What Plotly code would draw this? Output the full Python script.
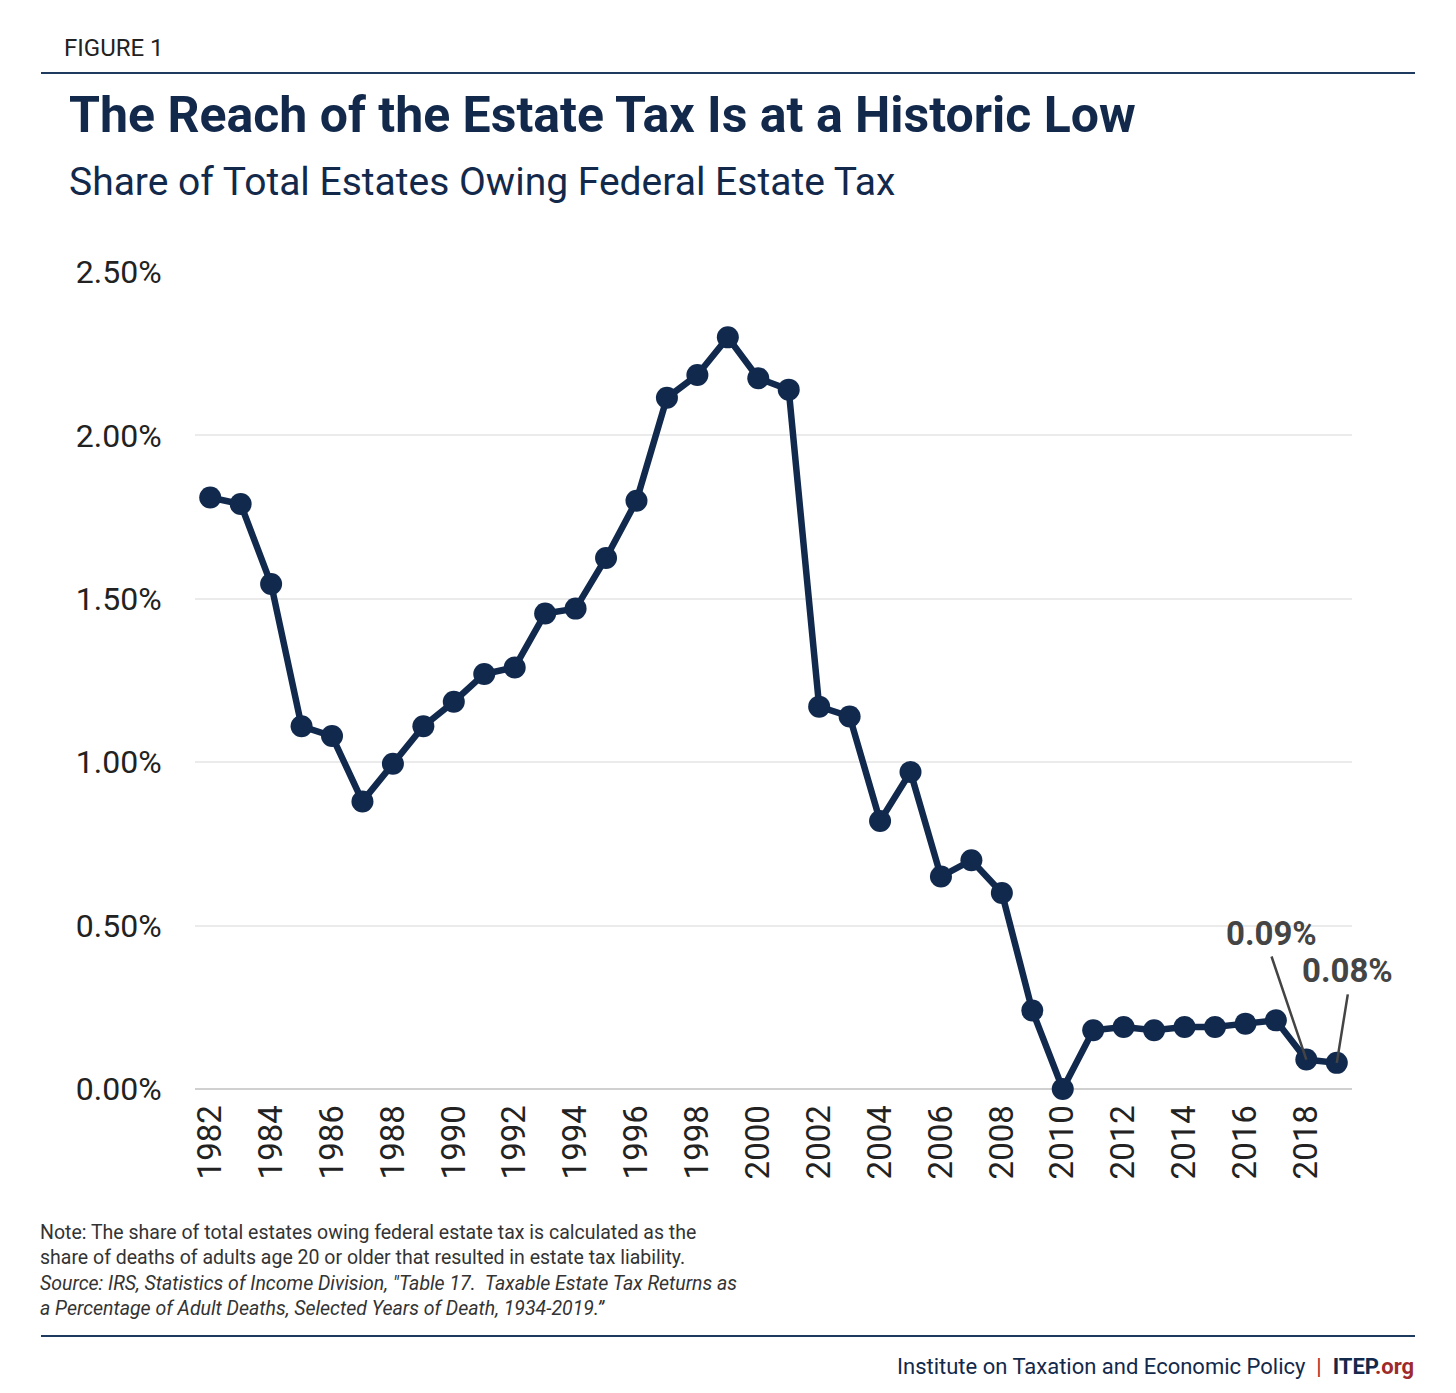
import plotly.graph_objects as go

years = list(range(1982, 2020))
share = [1.81, 1.79, 1.545, 1.11, 1.08, 0.88, 0.995, 1.11, 1.185, 1.27, 1.29, 1.455, 1.47,
         1.625, 1.80, 2.115, 2.185, 2.30, 2.175, 2.14, 1.17, 1.14, 0.82, 0.97, 0.65, 0.70,
         0.60, 0.24, 0.0, 0.18, 0.19, 0.18, 0.19, 0.19, 0.20, 0.21, 0.09, 0.08]
y_ticks = [0, 0.5, 1.0, 1.5, 2.0, 2.5]
y_tick_labels = ["0.00%", "0.50%", "1.00%", "1.50%", "2.00%", "2.50%"]
x_ticks = list(range(1982, 2019, 2))

NAVY = "#11294d"
FONT = "Roboto"

fig = go.Figure()
fig.add_trace(go.Scatter(
    x=years, y=share, mode="lines+markers",
    line=dict(color=NAVY, width=6.5),
    marker=dict(color=NAVY, size=22),
    cliponaxis=False, showlegend=False, hoverinfo="x+y"))

fig.update_layout(
    width=1440, height=1377, autosize=False,
    paper_bgcolor="white", plot_bgcolor="white",
    margin=dict(l=187, r=96, t=264, b=296),
    font=dict(family=FONT, color="#222222"),
    xaxis=dict(range=[1981.5, 2019.5], tickvals=x_ticks, tickangle=-90,
               showgrid=False, zeroline=False, showline=False,
               ticks="outside", ticklen=2, tickcolor="rgba(0,0,0,0)",
               tickfont=dict(size=33, color="#222222", family=FONT)),
    yaxis=dict(range=[0, 2.5], tickvals=y_ticks, ticktext=y_tick_labels,
               showgrid=True, gridcolor="#ebebeb", gridwidth=2,
               zeroline=True, zerolinecolor="#d0d0d0", zerolinewidth=2,
               showline=False, ticks="outside", ticklen=26, tickcolor="rgba(0,0,0,0)",
               tickfont=dict(size=32, color="#222222", family=FONT)),
)

def px_x(px):
    return (px - 195) / 1157

def px_y(py):
    return (1089 - py) / 817

# rules
for yy in [73, 1336]:
    fig.add_shape(type="line", xref="paper", yref="paper",
                  x0=px_x(41), x1=px_x(1415), y0=px_y(yy), y1=px_y(yy),
                  line=dict(color="#1f3a5f", width=2))

fig.add_annotation(xref="paper", yref="paper", x=px_x(62), y=px_y(48),
                   text="FIGURE 1", showarrow=False, xanchor="left", yanchor="middle",
                   font=dict(size=24, color="#222222", family=FONT))
fig.add_annotation(xref="paper", yref="paper", x=px_x(67), y=px_y(115),
                   text="<b>The Reach of the Estate Tax Is at a Historic Low</b>", showarrow=False,
                   xanchor="left", yanchor="middle",
                   font=dict(size=50, color="#13294b", family=FONT))
fig.add_annotation(xref="paper", yref="paper", x=px_x(67), y=px_y(182),
                   text="Share of Total Estates Owing Federal Estate Tax", showarrow=False,
                   xanchor="left", yanchor="middle",
                   font=dict(size=39, color="#13294b", family=FONT))

notes = ("Note: The share of total estates owing federal estate tax is calculated as the<br>"
         "share of deaths of adults age 20 or older that resulted in estate tax liability.<br>"
         "<i>Source: IRS, Statistics of Income Division, \"Table 17.  Taxable Estate Tax Returns as</i><br>"
         "<i>a Percentage of Adult Deaths, Selected Years of Death, 1934-2019.\u201d</i>")
fig.add_annotation(xref="paper", yref="paper", x=px_x(38), y=px_y(1219),
                   text=notes, showarrow=False, xanchor="left", yanchor="top", align="left",
                   font=dict(size=19.5, color="#333333", family=FONT))

fig.add_annotation(xref="paper", yref="paper", x=px_x(1416), y=px_y(1366),
                   text=("<span style='color:#13294b'>Institute on Taxation and Economic Policy</span>"
                         "<span style='color:#b0262c'>  |  </span>"
                         "<b><span style='color:#13294b'>ITEP</span></b>"
                         "<b><span style='color:#9e2a2b'>.org</span></b>"),
                   showarrow=False, xanchor="right", yanchor="middle",
                   font=dict(size=22, family=FONT))

# value callouts (leader lines from label to point)
fig.add_annotation(x=2018, y=share[-2], ax=2016.84, ay=0.41, axref="x", ayref="y",
                   text="", showarrow=True, arrowhead=0, arrowwidth=2.5, arrowcolor="#444444",
                   standoff=0, startstandoff=0)
fig.add_annotation(x=2019, y=share[-1], ax=2019.37, ay=0.294, axref="x", ayref="y",
                   text="", showarrow=True, arrowhead=0, arrowwidth=2.5, arrowcolor="#444444",
                   standoff=0, startstandoff=0)
fig.add_annotation(xref="paper", yref="paper", x=px_x(1271), y=px_y(933),
                   text="<b>0.09%</b>", showarrow=False, xanchor="center", yanchor="middle",
                   font=dict(size=33, color="#444444", family=FONT))
fig.add_annotation(xref="paper", yref="paper", x=px_x(1347), y=px_y(970),
                   text="<b>0.08%</b>", showarrow=False, xanchor="center", yanchor="middle",
                   font=dict(size=33, color="#444444", family=FONT))

fig.write_html("out.html")
